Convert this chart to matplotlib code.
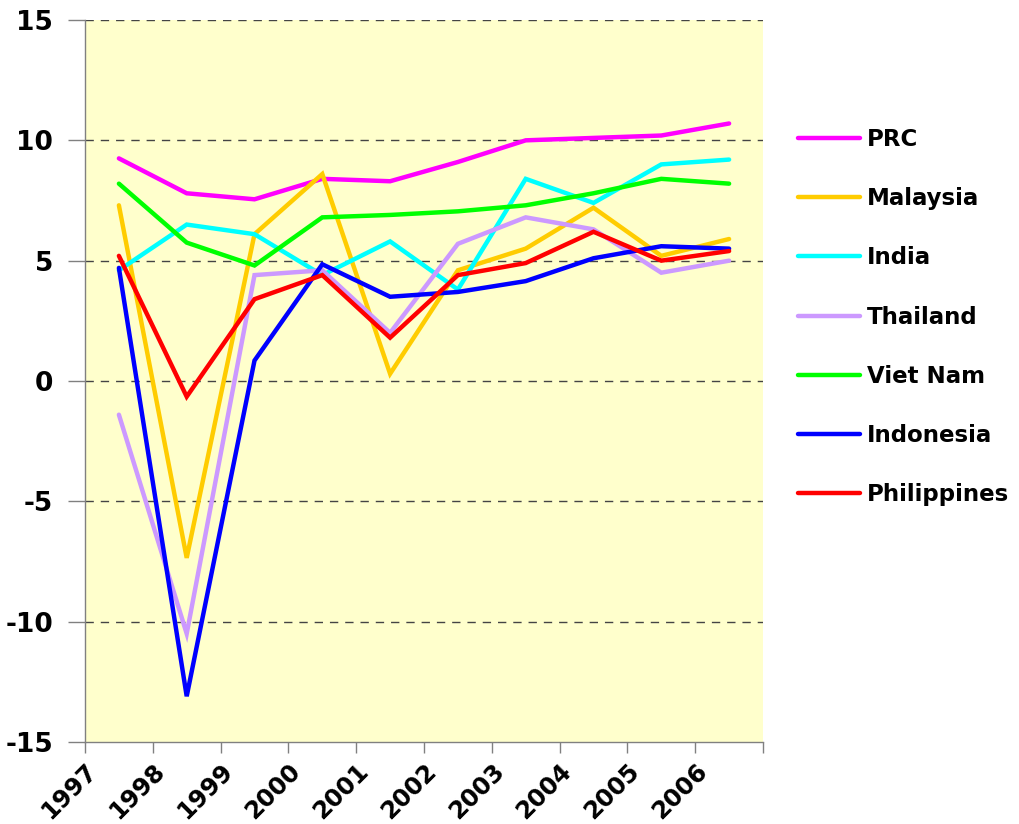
import matplotlib
matplotlib.use("Agg")
import matplotlib.pyplot as plt
import matplotlib.transforms as mtransforms

years = ["1997", "1998", "1999", "2000", "2001", "2002", "2003", "2004", "2005", "2006"]
countries = ["PRC", "Malaysia", "India", "Thailand", "Viet Nam", "Indonesia", "Philippines"]
prc = [9.25, 7.8, 7.55, 8.4, 8.3, 9.1, 10.0, 10.1, 10.2, 10.7]
malaysia = [7.3, -7.35, 6.1, 8.6, 0.3, 4.6, 5.5, 7.2, 5.2, 5.9]
india = [4.6, 6.5, 6.1, 4.4, 5.8, 3.8, 8.4, 7.4, 9.0, 9.2]
thailand = [-1.4, -10.5, 4.4, 4.6, 2.0, 5.7, 6.8, 6.3, 4.5, 5.0]
vietnam = [8.2, 5.75, 4.8, 6.8, 6.9, 7.05, 7.3, 7.8, 8.4, 8.2]
indonesia = [4.7, -13.1, 0.85, 4.85, 3.5, 3.7, 4.15, 5.1, 5.6, 5.5]
philippines = [5.2, -0.65, 3.4, 4.4, 1.8, 4.4, 4.9, 6.2, 5.0, 5.4]
series = [prc, malaysia, india, thailand, vietnam, indonesia, philippines]
colors = ["#FF00FF", "#FFCC00", "#00FFFF", "#CC99FF", "#00FF00", "#0000FF", "#FF0000"]

plt.rcParams['font.family'] = ['DejaVu Sans']
plt.rcParams['font.weight'] = 'bold'

fig = plt.figure(figsize=(10.19, 8.24), dpi=100)
W, H = 1019, 824
ax = fig.add_axes([85 / W, (H - 742) / H, (763 - 85) / W, (742 - 20) / H])
ax.set_facecolor("#FFFFCC")

xpos = [i + 0.5 for i in range(len(years))]
handles = []
for name, vals, c in zip(countries, series, colors):
    h, = ax.plot(xpos, vals, color=c, lw=3.2, label=name, solid_capstyle='round', solid_joinstyle='miter')
    handles.append(h)

ax.set_xlim(0, len(years))
ax.set_ylim(-15, 15)
ax.set_yticks([-15, -10, -5, 0, 5, 10, 15])
ax.set_yticklabels(["-15", "-10", "-5", "0", "5", "10", "15"], fontsize=19, fontweight='bold')
for yv in [-10, -5, 0, 5, 10, 15]:
    ax.axhline(yv, color="#444444", lw=1.0, ls=(0, (6, 5)), zorder=0.5)

ax.set_xticks(range(len(years) + 1))
ax.set_xticklabels(years + [""], fontsize=17.5, fontweight='bold')
offset = mtransforms.ScaledTranslation(6 / 100, -4 / 100, fig.dpi_scale_trans)
for lab in ax.get_xticklabels():
    lab.set_rotation(45)
    lab.set_rotation_mode('anchor')
    lab.set_ha('right')
    lab.set_va('top')
    lab.set_transform(lab.get_transform() + offset)

for s in ["top", "right"]:
    ax.spines[s].set_visible(False)
for s in ["left", "bottom"]:
    ax.spines[s].set_color("#808080")
    ax.spines[s].set_linewidth(1.0)
ax.tick_params(axis='y', direction='out', length=12, width=1, color="#808080", pad=11)
ax.tick_params(axis='x', direction='out', length=8, width=1, color="#808080", pad=4)

fig.legend(handles=handles, labels=countries, loc='upper left',
           bbox_to_anchor=(798 / W, 1 - 128 / H), frameon=False,
           prop={'family': 'DejaVu Sans', 'weight': 'bold', 'size': 16.5},
           handlelength=2.7, handletextpad=0.3, labelspacing=1.58,
           borderpad=0, borderaxespad=0)

fig.savefig("out.png", dpi=100)
